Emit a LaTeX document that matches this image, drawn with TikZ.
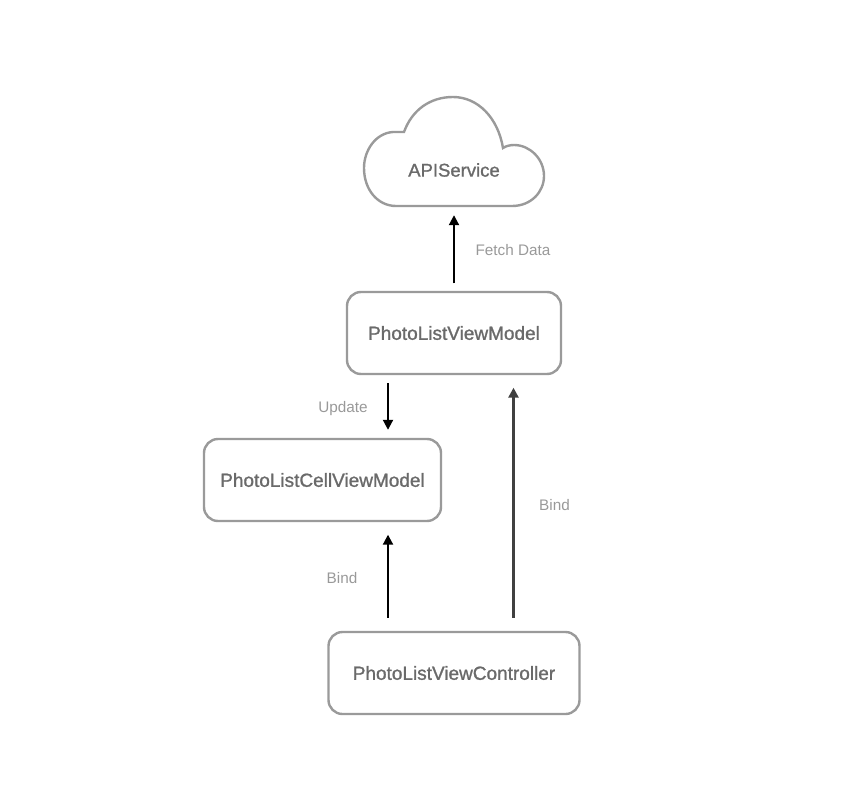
\documentclass[tikz,border=0pt]{standalone}
\usepackage{fontspec}
\setmainfont{Liberation Sans}
\newfontfamily\boxfont[FakeBold=1.2]{Liberation Sans}
\usetikzlibrary{arrows.meta}
\definecolor{strokegray}{HTML}{9A9A9A}
\definecolor{boxtext}{HTML}{6A6A6A}
\definecolor{flowtext}{HTML}{999999}
\tikzset{
	box/.style={draw=strokegray, line width=2.4pt, rounded corners=14pt, inner sep=0pt, text=boxtext, font=\boxfont\fontsize{19}{21}\selectfont},
	flow/.style={-{Triangle[length=10pt,width=10pt]}, line width=2pt, black},
	flowlabel/.style={text=flowtext, inner sep=0pt, font=\fontsize{15.3}{17}\selectfont},
}
\begin{document}
\begin{tikzpicture}[x=1pt, y=-1pt]
	\useasboundingbox (0,0) rectangle (854,800);
	% Cloud
	\draw[draw=strokegray, line width=2.4pt] (396,206) -- (512,206)
		.. controls (531,206) and (544,192) .. (544,176)
		.. controls (544,159) and (530,145) .. (514,145)
		.. controls (510,145) and (506,146) .. (503,148)
		.. controls (498,118) and (478,97) .. (453,97)
		.. controls (430,97) and (412,110) .. (404,132)
		.. controls (400,132) and (397,132) .. (393,132)
		.. controls (376,133) and (364,150) .. (364,168)
		.. controls (364,190) and (378,206) .. (396,206) -- cycle;
	\node[inner sep=0pt, text=boxtext, font=\boxfont\fontsize{18.5}{20}\selectfont, minimum height=72pt] (api) at (454,170) {APIService};
	% Boxes
	\node[box, minimum width=214pt, minimum height=82pt] (listvm) at (454,333) {PhotoListViewModel};
	\node[box, minimum width=237pt, minimum height=82pt] (cellvm) at (322.5,480) {PhotoListCellViewModel};
	\node[box, minimum width=251pt, minimum height=82pt] (listvc) at (454,673) {PhotoListViewController};
	% Connectors
	\draw[flow] ([yshift=7.5pt]listvm.north) -- ([yshift=-9pt]api.south);
	\draw[flow] ([xshift=-66pt,yshift=-8pt]listvm.south) -- ([xshift=65.5pt,yshift=8pt]cellvm.north);
	\draw[flow] ([xshift=-66pt,yshift=13pt]listvc.north) -- ([xshift=65.5pt,yshift=-12.5pt]cellvm.south);
	\draw[flow, black!75, line width=2.5pt] ([xshift=59.5pt,yshift=13pt]listvc.north) -- ([xshift=59.5pt,yshift=-12.5pt]listvm.south);
	% Labels
	\node[flowlabel] (fetchlabel) at (513,250.5) {Fetch Data};
	\node[flowlabel] (updatelabel) at (343,408.5) {Update};
	\node[flowlabel] (bindcell) at (342,578) {Bind};
	\node[flowlabel] (bindlist) at (554.5,505) {Bind};
\end{tikzpicture}
\end{document}
